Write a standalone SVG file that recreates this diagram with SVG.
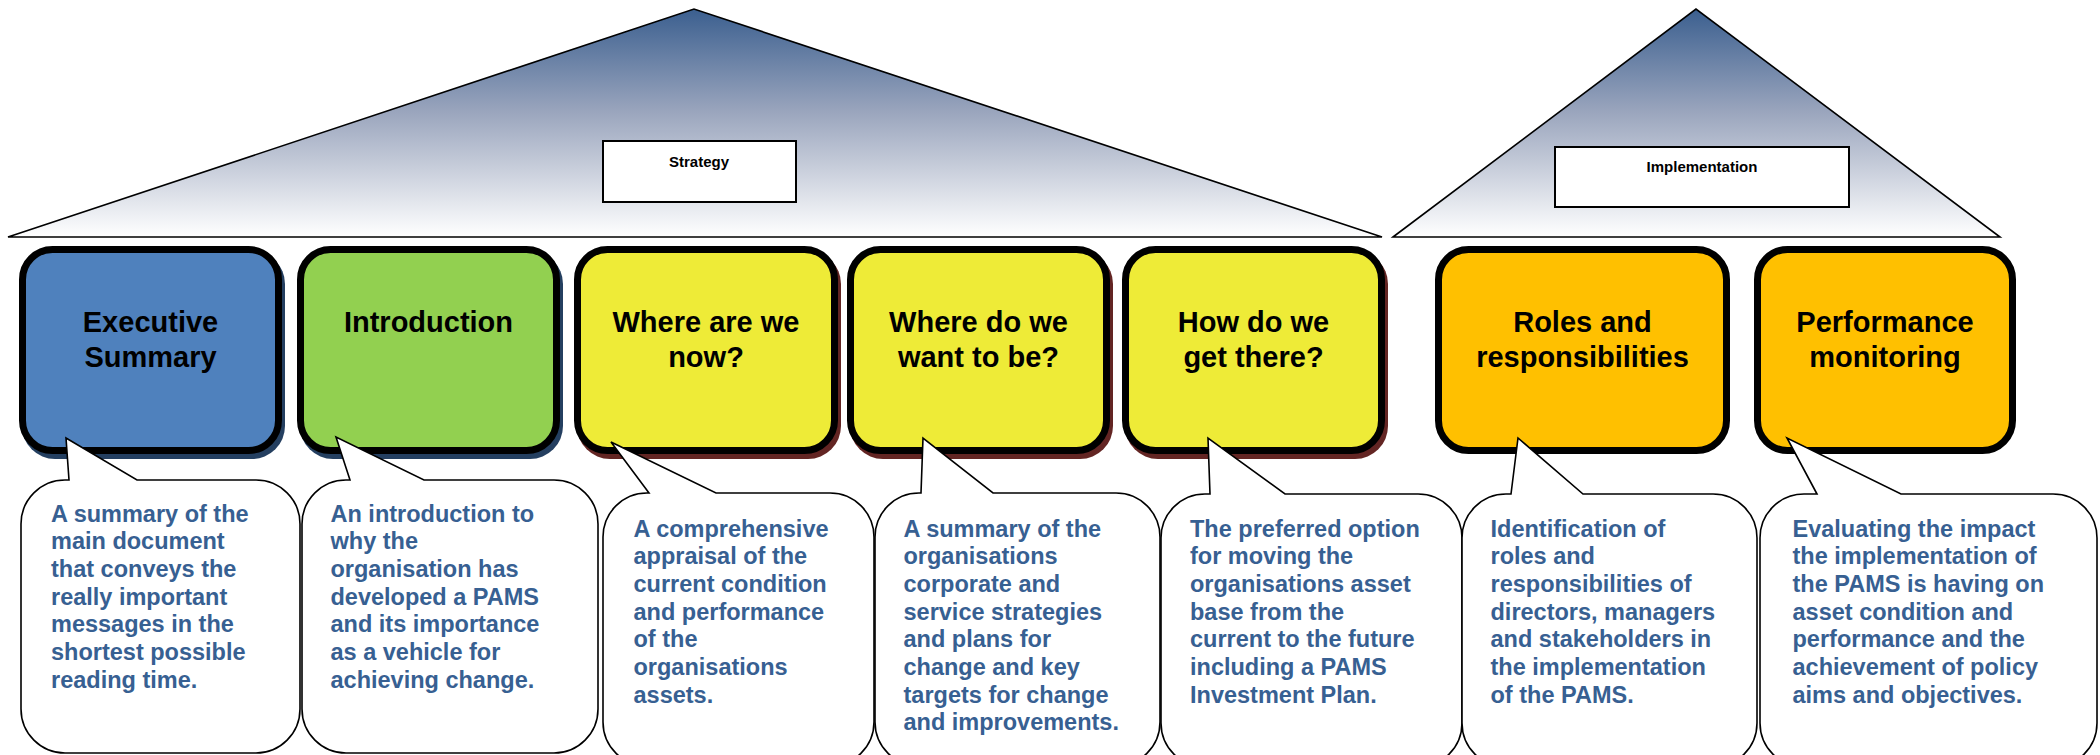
<svg xmlns="http://www.w3.org/2000/svg" width="2100" height="755" viewBox="0 0 2100 755">
  <defs>
    <linearGradient id="roofFill" x1="0" y1="0" x2="0" y2="1">
      <stop offset="0" stop-color="#3b5f8f"/>
      <stop offset="0.45" stop-color="#9aa5bd"/>
      <stop offset="1" stop-color="#ffffff"/>
    </linearGradient>
    <style>
      .roof { fill: url(#roofFill); stroke: #000; stroke-width: 1.6; stroke-linejoin: miter; }
      .label-box { fill: #fff; stroke: #000; stroke-width: 2; }
      .label { font-family: "Liberation Sans", Arial, sans-serif; font-weight: bold; font-size: 15px; fill: #000; text-anchor: middle; }
      .node { stroke: #000; stroke-width: 7; }
      .blue { fill: #4f81bd; }
      .green { fill: #92d050; }
      .yellow { fill: #eeeb37; }
      .orange { fill: #ffc000; }
      .shadow-blue { fill: #243f60; }
      .shadow-red { fill: #632523; }
      .title { font-family: "Liberation Sans", Arial, sans-serif; font-weight: bold; font-size: 29px; fill: #000; text-anchor: middle; }
      .callout { fill: #fff; stroke: #000; stroke-width: 1.6; stroke-linejoin: miter; }
      .note { font-family: "Liberation Sans", Arial, sans-serif; font-weight: bold; font-size: 23.5px; fill: #376092; }
    </style>
  </defs>

  <!-- Roof triangles -->
  <g id="strategy">
    <polygon class="roof" points="8,237 694,9 1382,237"/>
    <rect class="label-box" x="603" y="141" width="193" height="61"/>
    <text class="label" x="699" y="167">Strategy</text>
  </g>
  <g id="implementation">
    <polygon class="roof" points="1393,237 1696,9 2000,237"/>
    <rect class="label-box" x="1555" y="147" width="294" height="60"/>
    <text class="label" x="1702" y="172">Implementation</text>
  </g>

  <!-- Section boxes -->
  <g id="executive-summary">
    <rect class="shadow-blue" x="22" y="251" width="263" height="208" rx="33"/>
    <rect class="node blue" x="22.5" y="249.5" width="256" height="201" rx="30"/>
    <text class="title" x="150.5" y="331.7">Executive</text>
    <text class="title" x="150.5" y="366.7">Summary</text>
  </g>
  <g id="introduction">
    <rect class="shadow-blue" x="300" y="251" width="263" height="208" rx="33"/>
    <rect class="node green" x="300.5" y="249.5" width="256" height="201" rx="30"/>
    <text class="title" x="428.5" y="331.7">Introduction</text>
  </g>
  <g id="where-now">
    <rect class="shadow-red" x="577" y="251" width="264" height="208" rx="33"/>
    <rect class="node yellow" x="577.5" y="249.5" width="257" height="201" rx="30"/>
    <text class="title" x="706" y="331.7">Where are we</text>
    <text class="title" x="706" y="366.7">now?</text>
  </g>
  <g id="where-want">
    <rect class="shadow-red" x="850" y="251" width="263" height="208" rx="33"/>
    <rect class="node yellow" x="850.5" y="249.5" width="256" height="201" rx="30"/>
    <text class="title" x="978.5" y="331.7">Where do we</text>
    <text class="title" x="978.5" y="366.7">want to be?</text>
  </g>
  <g id="get-there">
    <rect class="shadow-red" x="1125" y="251" width="263" height="208" rx="33"/>
    <rect class="node yellow" x="1125.5" y="249.5" width="256" height="201" rx="30"/>
    <text class="title" x="1253.5" y="331.7">How do we</text>
    <text class="title" x="1253.5" y="366.7">get there?</text>
  </g>
  <g id="roles">
    <rect class="node orange" x="1438.5" y="249.5" width="288" height="201" rx="30"/>
    <text class="title" x="1582.5" y="331.7">Roles and</text>
    <text class="title" x="1582.5" y="366.7">responsibilities</text>
  </g>
  <g id="performance">
    <rect class="node orange" x="1757.5" y="249.5" width="255" height="201" rx="30"/>
    <text class="title" x="1885" y="331.7">Performance</text>
    <text class="title" x="1885" y="366.7">monitoring</text>
  </g>

  <!-- Callout bubbles, each wedge pointing back at its section box -->
  <g id="callouts">
    <g id="note-executive-summary">
      <path class="callout" d="M69,480 L66,438 L137,480 L256,480 A44,44 0 0 1 300,524 L300,709 A44,44 0 0 1 256,753 L65,753 A44,44 0 0 1 21,709 L21,524 A44,44 0 0 1 65,480 Z"/>
      <text class="note" x="51" y="521.7">A summary of the</text>
      <text class="note" x="51" y="549.3">main document</text>
      <text class="note" x="51" y="577">that conveys the</text>
      <text class="note" x="51" y="604.7">really important</text>
      <text class="note" x="51" y="632.3">messages in the</text>
      <text class="note" x="51" y="660">shortest possible</text>
      <text class="note" x="51" y="687.7">reading time.</text>
    </g>
    <g id="note-introduction">
      <path class="callout" d="M350,480 L336,437 L424,480 L554,480 A44,44 0 0 1 598,524 L598,709 A44,44 0 0 1 554,753 L346,753 A44,44 0 0 1 302,709 L302,524 A44,44 0 0 1 346,480 Z"/>
      <text class="note" x="330.5" y="521.7">An introduction to</text>
      <text class="note" x="330.5" y="549.3">why the</text>
      <text class="note" x="330.5" y="577">organisation has</text>
      <text class="note" x="330.5" y="604.7">developed a PAMS</text>
      <text class="note" x="330.5" y="632.3">and its importance</text>
      <text class="note" x="330.5" y="660">as a vehicle for</text>
      <text class="note" x="330.5" y="687.7">achieving change.</text>
    </g>
    <g id="note-where-now">
      <path class="callout" d="M649,493 L611,442 L716,493 L830,493 A44,44 0 0 1 874,537 L874,722 A44,44 0 0 1 830,766 L647,766 A44,44 0 0 1 603,722 L603,537 A44,44 0 0 1 647,493 Z"/>
      <text class="note" x="633.5" y="536.7">A comprehensive</text>
      <text class="note" x="633.5" y="564.3">appraisal of the</text>
      <text class="note" x="633.5" y="592">current condition</text>
      <text class="note" x="633.5" y="619.7">and performance</text>
      <text class="note" x="633.5" y="647.3">of the</text>
      <text class="note" x="633.5" y="675">organisations</text>
      <text class="note" x="633.5" y="702.7">assets.</text>
    </g>
    <g id="note-where-want">
      <path class="callout" d="M921,493 L923,438 L993,493 L1116,493 A44,44 0 0 1 1160,537 L1160,722 A44,44 0 0 1 1116,766 L919,766 A44,44 0 0 1 875,722 L875,537 A44,44 0 0 1 919,493 Z"/>
      <text class="note" x="903.5" y="536.7">A summary of the</text>
      <text class="note" x="903.5" y="564.3">organisations</text>
      <text class="note" x="903.5" y="592">corporate and</text>
      <text class="note" x="903.5" y="619.7">service strategies</text>
      <text class="note" x="903.5" y="647.3">and plans for</text>
      <text class="note" x="903.5" y="675">change and key</text>
      <text class="note" x="903.5" y="702.7">targets for change</text>
      <text class="note" x="903.5" y="730.3">and improvements.</text>
    </g>
    <g id="note-get-there">
      <path class="callout" d="M1210,494 L1208,438 L1285,494 L1418,494 A44,44 0 0 1 1462,538 L1462,723 A44,44 0 0 1 1418,767 L1205,767 A44,44 0 0 1 1161,723 L1161,538 A44,44 0 0 1 1205,494 Z"/>
      <text class="note" x="1190" y="536.7">The preferred option</text>
      <text class="note" x="1190" y="564.3">for moving the</text>
      <text class="note" x="1190" y="592">organisations asset</text>
      <text class="note" x="1190" y="619.7">base from the</text>
      <text class="note" x="1190" y="647.3">current to the future</text>
      <text class="note" x="1190" y="675">including a PAMS</text>
      <text class="note" x="1190" y="702.7">Investment Plan.</text>
    </g>
    <g id="note-roles">
      <path class="callout" d="M1511,494 L1518,438 L1583,494 L1713,494 A44,44 0 0 1 1757,538 L1757,723 A44,44 0 0 1 1713,767 L1506,767 A44,44 0 0 1 1462,723 L1462,538 A44,44 0 0 1 1506,494 Z"/>
      <text class="note" x="1490.5" y="536.7">Identification of</text>
      <text class="note" x="1490.5" y="564.3">roles and</text>
      <text class="note" x="1490.5" y="592">responsibilities of</text>
      <text class="note" x="1490.5" y="619.7">directors, managers</text>
      <text class="note" x="1490.5" y="647.3">and stakeholders in</text>
      <text class="note" x="1490.5" y="675">the implementation</text>
      <text class="note" x="1490.5" y="702.7">of the PAMS.</text>
    </g>
    <g id="note-performance">
      <path class="callout" d="M1817,494 L1787,438 L1901,494 L2053,494 A44,44 0 0 1 2097,538 L2097,723 A44,44 0 0 1 2053,767 L1804,767 A44,44 0 0 1 1760,723 L1760,538 A44,44 0 0 1 1804,494 Z"/>
      <text class="note" x="1792.5" y="536.7">Evaluating the impact</text>
      <text class="note" x="1792.5" y="564.3">the implementation of</text>
      <text class="note" x="1792.5" y="592">the PAMS is having on</text>
      <text class="note" x="1792.5" y="619.7">asset condition and</text>
      <text class="note" x="1792.5" y="647.3">performance and the</text>
      <text class="note" x="1792.5" y="675">achievement of policy</text>
      <text class="note" x="1792.5" y="702.7">aims and objectives.</text>
    </g>
  </g>
</svg>
